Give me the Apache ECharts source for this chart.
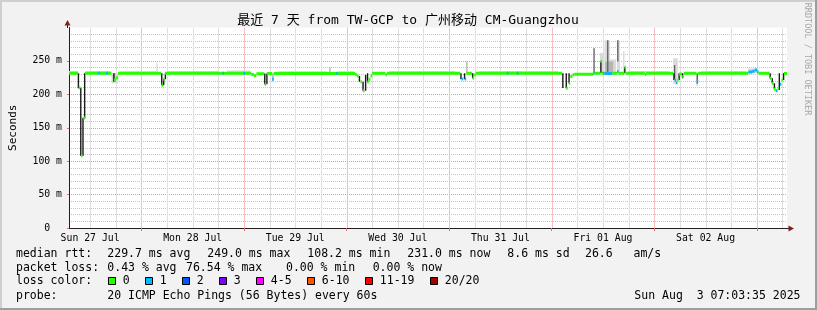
<!DOCTYPE html>
<html><head><meta charset="utf-8">
<script src="https://cdn.jsdelivr.net/npm/echarts@6/dist/echarts.min.js"></script>
<style>html,body{margin:0;padding:0;background:#f2f2f2}#c{width:817px;height:310px}</style>
</head><body><div id="c"></div>
<script>
// ---------- data (hours since Sun 27 Jul 00:00, values in ms) ----------
const startHour = 7.0597;               // Sun 27 Jul 07:03:35
const endHour = startHour + 168;        // Sun 03 Aug 07:03:35
const dayLabelHours = [12, 36, 60, 84, 108, 132, 156];
const dayLabels = ['Sun 27 Jul', 'Mon 28 Jul', 'Tue 29 Jul', 'Wed 30 Jul', 'Thu 31 Jul', 'Fri 01 Aug', 'Sat 02 Aug'];
const midnightHours = [24, 48, 72, 96, 120, 144, 168];
const sixHourHours = [12, 18, 30, 36, 42, 54, 60, 66, 78, 84, 90, 102, 108, 114, 126, 132, 138, 150, 156, 162, 174];

const lossLabels = ['0', '1', '2', '3', '4-5', '6-10', '11-19', '20/20'];
const lossColors = ['#26ff00', '#00b8ff', '#0059ff', '#7e00ff', '#ff00ff', '#ff5500', '#ff0000', '#a10000'];
const smokeShades = ['#dadada', '#b5b5b5', '#666666', '#1a1a1a'];

// smoke: [startHour, endHour, low ms, high ms, shade]
const smokeBars = [
  [7.06, 9.1, 231.5, 235, 0], [11.0, 16.8, 231.5, 235, 0], [19.0, 27.4, 231.5, 234.5, 0],
  [27.5, 27.7, 231.5, 246.5, 0], [30.0, 42.0, 231.5, 235, 0], [44.0, 49.5, 231.5, 235.5, 0],
  [56.0, 67.5, 231.5, 235, 0], [67.95, 68.1, 231.5, 240.5, 1], [70.0, 73.8, 231.5, 235, 0],
  [82.0, 97.5, 231.5, 235, 0], [103.0, 121.5, 231.5, 235, 0], [138.0, 147.5, 231.5, 235, 0],
  [155.0, 165.5, 231.5, 235, 0],
  [9.1, 9.25, 209, 231.5, 3], [9.65, 9.82, 108, 210, 3], [10.17, 10.33, 108, 165, 3], [10.56, 10.72, 164, 231.5, 3],
  [17.0, 18.6, 216.5, 231.5, 0], [17.3, 17.9, 219, 231.5, 1], [17.4, 17.55, 219, 231.5, 3],
  [28.6, 28.75, 213.5, 231.5, 3], [29.05, 29.2, 213.7, 223, 3], [29.45, 29.6, 222.6, 231.5, 3],
  [52.7, 52.85, 215, 231, 3], [53.2, 53.35, 215, 231, 3], [54.5, 55.0, 218, 231.5, 0], [54.6, 54.8, 220, 231, 1],
  [74.85, 75.0, 219, 227.5, 3], [75.7, 75.85, 205.5, 219, 3], [76.3, 76.45, 205.5, 229, 3], [76.75, 76.9, 218.6, 231.5, 3],
  [98.6, 98.75, 222.5, 231.5, 3], [99.45, 99.6, 222.5, 231.5, 3], [100.0, 100.15, 231.5, 249, 1],
  [101.35, 101.5, 224, 231.5, 3],
  [122.45, 122.6, 209.5, 231.5, 3], [123.25, 123.4, 209, 231.5, 3], [123.9, 124.05, 216.6, 231.5, 3],
  [129.75, 129.95, 231.5, 269, 2], [131.3, 132.3, 231.5, 262, 0], [131.35, 131.5, 231.5, 249, 3],
  [132.35, 133.6, 231.5, 281, 0], [133.6, 135.1, 231.5, 252, 0], [132.5, 134.4, 231.5, 249, 1],
  [132.95, 133.2, 231.5, 281, 2], [135.3, 135.95, 231.5, 281, 0], [135.3, 135.5, 249, 281, 2],
  [136.7, 137.0, 231.5, 265, 0], [136.95, 137.1, 231.5, 240.5, 3],
  [148.45, 149.5, 216, 254, 0], [148.6, 148.9, 224, 244, 2], [148.45, 148.6, 221.6, 231.5, 3],
  [149.65, 149.8, 221.6, 231.5, 3], [150.45, 150.6, 224, 231.5, 3],
  [153.85, 154.25, 212, 231.5, 0], [153.9, 154.1, 216, 231.5, 2],
  [166.0, 168.4, 231.5, 238.5, 0],
  [170.95, 171.1, 224, 231.5, 3], [171.45, 171.6, 216.6, 224, 3], [171.95, 172.1, 207.6, 216.6, 3],
  [173.1, 173.3, 206.6, 231.5, 3], [174.1, 174.3, 221.6, 231.5, 3]
];

// median rtt: [startHour, endHour, ms, loss bucket index]
const medianSegments = [
  [7.06, 9.2, 231.5, 0], [9.35, 9.7, 210, 0], [9.9, 10.25, 108.2, 0], [10.45, 10.8, 164.7, 0],
  [10.8, 17.0, 231.5, 0], [17.55, 18.05, 221.5, 0], [18.05, 18.5, 225, 0], [18.5, 28.6, 231.5, 0],
  [28.7, 29.0, 213.7, 0], [29.1, 29.45, 222.6, 0], [29.55, 49.7, 231.5, 0],
  [49.7, 50.3, 229.5, 0], [50.3, 50.9, 227.8, 0], [50.9, 52.75, 230.8, 0], [52.85, 53.2, 215.1, 0],
  [53.35, 54.6, 231, 0], [54.6, 54.95, 222.6, 1], [54.95, 74.0, 231.3, 0],
  [74.0, 74.4, 229.5, 0], [74.4, 74.85, 227.5, 0], [75.25, 75.6, 219, 0], [75.85, 76.15, 205.5, 0],
  [76.85, 77.15, 218.6, 0], [77.15, 77.6, 222.6, 0], [77.6, 78.0, 227.5, 0], [78.0, 81.1, 231.5, 0],
  [81.1, 81.45, 229.3, 0], [81.45, 98.6, 231.5, 0],
  [98.9, 99.3, 223, 1], [99.65, 100.0, 223, 1], [100.0, 101.35, 231.5, 0],
  [101.5, 101.85, 224.5, 0], [101.85, 102.2, 229, 0], [102.2, 122.45, 231.5, 0],
  [123.4, 123.75, 209, 0], [124.0, 124.35, 216.6, 0], [124.35, 124.85, 226.5, 0], [124.85, 125.3, 229.2, 0],
  [125.3, 129.7, 230.2, 0], [129.7, 130.0, 231.5, 1], [130.0, 131.45, 231.5, 0], [131.45, 131.75, 249, 0],
  [131.75, 132.05, 231.5, 0], [132.05, 132.35, 231.5, 5], [132.35, 134.2, 231, 1], [134.2, 135.3, 231.5, 0],
  [135.3, 135.6, 234, 1], [135.6, 137.0, 231.5, 0], [137.05, 137.35, 240.5, 0], [137.35, 141.8, 231.5, 0],
  [141.8, 142.1, 229.8, 0], [142.1, 148.45, 231.5, 0],
  [148.75, 149.05, 221.6, 1], [149.05, 149.4, 217.5, 1], [149.4, 149.7, 221.6, 0], [149.8, 150.45, 230.5, 0],
  [150.55, 150.9, 226.5, 0], [150.9, 153.9, 231.5, 0], [153.95, 154.25, 220, 1], [154.25, 166.0, 231.5, 0],
  [166.0, 166.9, 233.3, 1], [166.9, 167.5, 234.5, 1], [167.5, 168.05, 236.3, 1], [168.05, 168.4, 233.3, 1],
  [168.4, 171.0, 231.5, 0], [171.0, 171.45, 224, 0], [171.55, 171.95, 216.6, 0], [172.0, 172.4, 207.6, 0],
  [172.4, 172.85, 205.5, 1], [172.85, 173.2, 209, 0], [173.4, 173.75, 215, 1], [173.75, 174.1, 221.6, 0],
  [174.35, 175.06, 231, 0],
  [13.85, 14.15, 231.5, 1], [15.75, 16.05, 231.5, 1], [43.0, 43.3, 231.5, 1], [47.9, 48.2, 231.5, 1],
  [69.6, 69.9, 231.5, 1], [109.5, 109.8, 231.5, 1], [111.85, 112.15, 231.5, 1]
];

const legendStats = [
  ['median rtt:', '229.7 ms avg', '249.0 ms max', '108.2 ms min', '231.0 ms now', '8.6 ms sd', '26.6   am/s'],
  ['packet loss:', '0.43 % avg', '76.54 % max', '0.00 % min', '0.00 % now']
];
const probeText = ['probe:', '20 ICMP Echo Pings (56 Bytes) every 60s'];
const stampText = 'Sun Aug  3 07:03:35 2025';
const titleText = '最近 7 天 from TW-GCP to 广州移动 CM-Guangzhou';

// ---------- chart ----------
const MONO = "'DejaVu Sans Mono', monospace";
const TFONT = "'DejaVu Sans Mono', 'Noto Sans CJK SC', monospace";
const MINOR = '#c4c4c4';
const MAJOR = '#eb9595';
const MINOR_V = '#e0e0e0';
const MAJOR_V = '#f4c0c0';
const chart = echarts.init(document.getElementById('c'), null, {renderer: 'canvas'});

// vertical grid: [hour, bottom, top, isMidnight]
const vGrid = sixHourHours.map(h => [h, 0, 300, 0]).concat(midnightHours.map(h => [h, 0, 300, 1]));

function txt(x, y, text, opts) {
  return {
    type: 'text', x: x, y: y, silent: true,
    style: Object.assign({text: text, fill: '#000', fontSize: 11.5, fontFamily: MONO,
      align: 'left', verticalAlign: 'middle', textAlign: 'left', textVerticalAlign: 'middle'}, opts || {})
  };
}

const graphics = [];
graphics.push({type: 'rect', shape: {x: 0, y: 0, width: 817, height: 2}, style: {fill: '#cfcfcf'}, silent: true});
graphics.push({type: 'rect', shape: {x: 0, y: 0, width: 2, height: 310}, style: {fill: '#cfcfcf'}, silent: true});
graphics.push({type: 'rect', shape: {x: 815, y: 0, width: 2, height: 310}, style: {fill: '#9e9e9e'}, silent: true});
graphics.push({type: 'rect', shape: {x: 0, y: 308, width: 817, height: 2}, style: {fill: '#9e9e9e'}, silent: true});
graphics.push(txt(408, 21, titleText, {fontSize: 13, fontFamily: TFONT, align: 'center', textAlign: 'center'}));
graphics.push({type: 'text', x: 807.5, y: 59, rotation: -Math.PI / 2, silent: true,
  style: {text: 'RRDTOOL / TOBI OETIKER', fill: '#a8a8a8', fontSize: 8.5, fontFamily: MONO,
    align: 'center', verticalAlign: 'middle', textAlign: 'center', textVerticalAlign: 'middle'}});
graphics.push({type: 'line', shape: {x1: 67.5, y1: 28, x2: 67.5, y2: 23}, style: {stroke: '#1f1f1f', lineWidth: 1}, silent: true});
graphics.push({type: 'polygon', shape: {points: [[64.5, 25.5], [70.5, 25.5], [67.5, 20]]}, style: {fill: '#801f1f'}, silent: true});
graphics.push({type: 'line', shape: {x1: 786, y1: 228.5, x2: 790, y2: 228.5}, style: {stroke: '#1f1f1f', lineWidth: 1}, silent: true});
graphics.push({type: 'polygon', shape: {points: [[788.5, 225.5], [788.5, 231.5], [794, 228.5]]}, style: {fill: '#801f1f'}, silent: true});
const row1X = [16, 107.3, 207.3, 307.3, 407.3, 507.3, 585];
const row2X = [16, 107.3, 186, 286, 372.7];
legendStats[0].forEach((s, i) => graphics.push(txt(row1X[i], 254, s)));
legendStats[1].forEach((s, i) => graphics.push(txt(row2X[i], 268.4, s)));
graphics.push(txt(16, 281.5, 'loss color:'));
const boxX = [108.5, 145.5, 182.5, 219.5, 256.5, 307.5, 365.5, 430.5];
lossLabels.forEach((l, i) => {
  graphics.push({type: 'rect', shape: {x: boxX[i], y: 277.5, width: 7, height: 7},
    style: {fill: lossColors[i], stroke: '#000', lineWidth: 1}, silent: true});
  graphics.push(txt(boxX[i] + 14.3, 281.5, l));
});
graphics.push(txt(16, 296.5, probeText[0]));
graphics.push(txt(107.3, 296.5, probeText[1]));
graphics.push(txt(800.5, 296.5, stampText, {align: 'right', textAlign: 'right'}));

const option = {
  animation: false,
  backgroundColor: '#f2f2f2',
  grid: {left: 67, right: 30, top: 27.5, bottom: 82, show: true, backgroundColor: '#ffffff', borderWidth: 0},
  xAxis: {
    type: 'value', min: startHour, max: endHour,
    splitLine: {show: false},
    axisLine: {show: true, lineStyle: {color: '#1f1f1f', width: 1}},
    axisTick: {show: true, customValues: midnightHours, length: 3, inside: false, lineStyle: {color: '#e07070'}},
    axisLabel: {
      customValues: dayLabelHours, margin: 5, fontSize: 9.8, fontFamily: MONO, color: '#000',
      formatter: v => dayLabels[dayLabelHours.indexOf(Math.round(v))] || ''
    }
  },
  yAxis: [
    {
      type: 'value', min: 0, max: 300, interval: 10, position: 'left',
      axisLine: {show: false}, axisTick: {show: false}, axisLabel: {show: false},
      splitLine: {show: true, showMaxLine: false, showMinLine: false, lineStyle: {color: MINOR, type: [1, 1], width: 1}}
    },
    {
      type: 'value', min: 0, max: 300, interval: 50, position: 'left',
      name: 'Seconds', nameLocation: 'middle', nameGap: 50, nameRotate: 90,
      nameTextStyle: {fontSize: 11, fontFamily: MONO, color: '#000'},
      axisLine: {show: true, lineStyle: {color: '#1f1f1f', width: 1}},
      axisTick: {show: true, length: 2, lineStyle: {color: '#e07070'}},
      axisLabel: {margin: 7, fontSize: 9.8, fontFamily: MONO, color: '#000', showMaxLabel: false,
        formatter: v => (v === 0 ? '0  ' : v + ' m')},
      splitLine: {show: true, showMaxLine: false, showMinLine: false, lineStyle: {color: MAJOR, type: [1, 1], width: 1}}
    }
  ],
  series: [
    {
      type: 'custom', name: 'vgrid', z: 2, yAxisIndex: 1, clip: false, silent: true,
      dimensions: ['h', 'lo', 'hi', 'major'], encode: {x: 0, y: [1, 2]},
      data: vGrid,
      renderItem: (params, api) => {
        const a = api.coord([api.value(0), api.value(1)]);
        const b = api.coord([api.value(0), api.value(2)]);
        const x = Math.round(a[0]);
        const major = api.value(3) === 1;
        return {type: 'rect', shape: {x: x, y: b[1], width: 1, height: a[1] - b[1]},
          style: {fill: major ? MAJOR_V : MINOR_V}};
      }
    },
    {
      type: 'custom', name: 'smoke', z: 3, yAxisIndex: 1, clip: true, silent: true,
      dimensions: ['t0', 't1', 'lo', 'hi', 'shade'],
      encode: {x: [0, 1], y: [2, 3]},
      data: smokeBars,
      renderItem: (params, api) => {
        const p0 = api.coord([api.value(0), api.value(3)]);
        const p1 = api.coord([api.value(1), api.value(2)]);
        const w = Math.max(p1[0] - p0[0], 1.4);
        return {type: 'rect', shape: {x: p0[0], y: p0[1], width: w, height: p1[1] - p0[1]},
          style: {fill: smokeShades[api.value(4)]}};
      }
    },
    {
      type: 'custom', name: 'median', z: 4, yAxisIndex: 1, clip: true, silent: true,
      dimensions: ['t0', 't1', 'ms', 'loss'],
      encode: {x: [0, 1], y: 2},
      data: medianSegments,
      renderItem: (params, api) => {
        const p0 = api.coord([api.value(0), api.value(2)]);
        const p1 = api.coord([api.value(1), api.value(2)]);
        const w = Math.max(p1[0] - p0[0], 1.5);
        return {type: 'rect', shape: {x: p0[0], y: p0[1] - 1.5, width: w, height: 3},
          style: {fill: lossColors[api.value(3)]}};
      }
    }
  ],
  graphic: graphics
};
chart.setOption(option);
</script></body></html>
